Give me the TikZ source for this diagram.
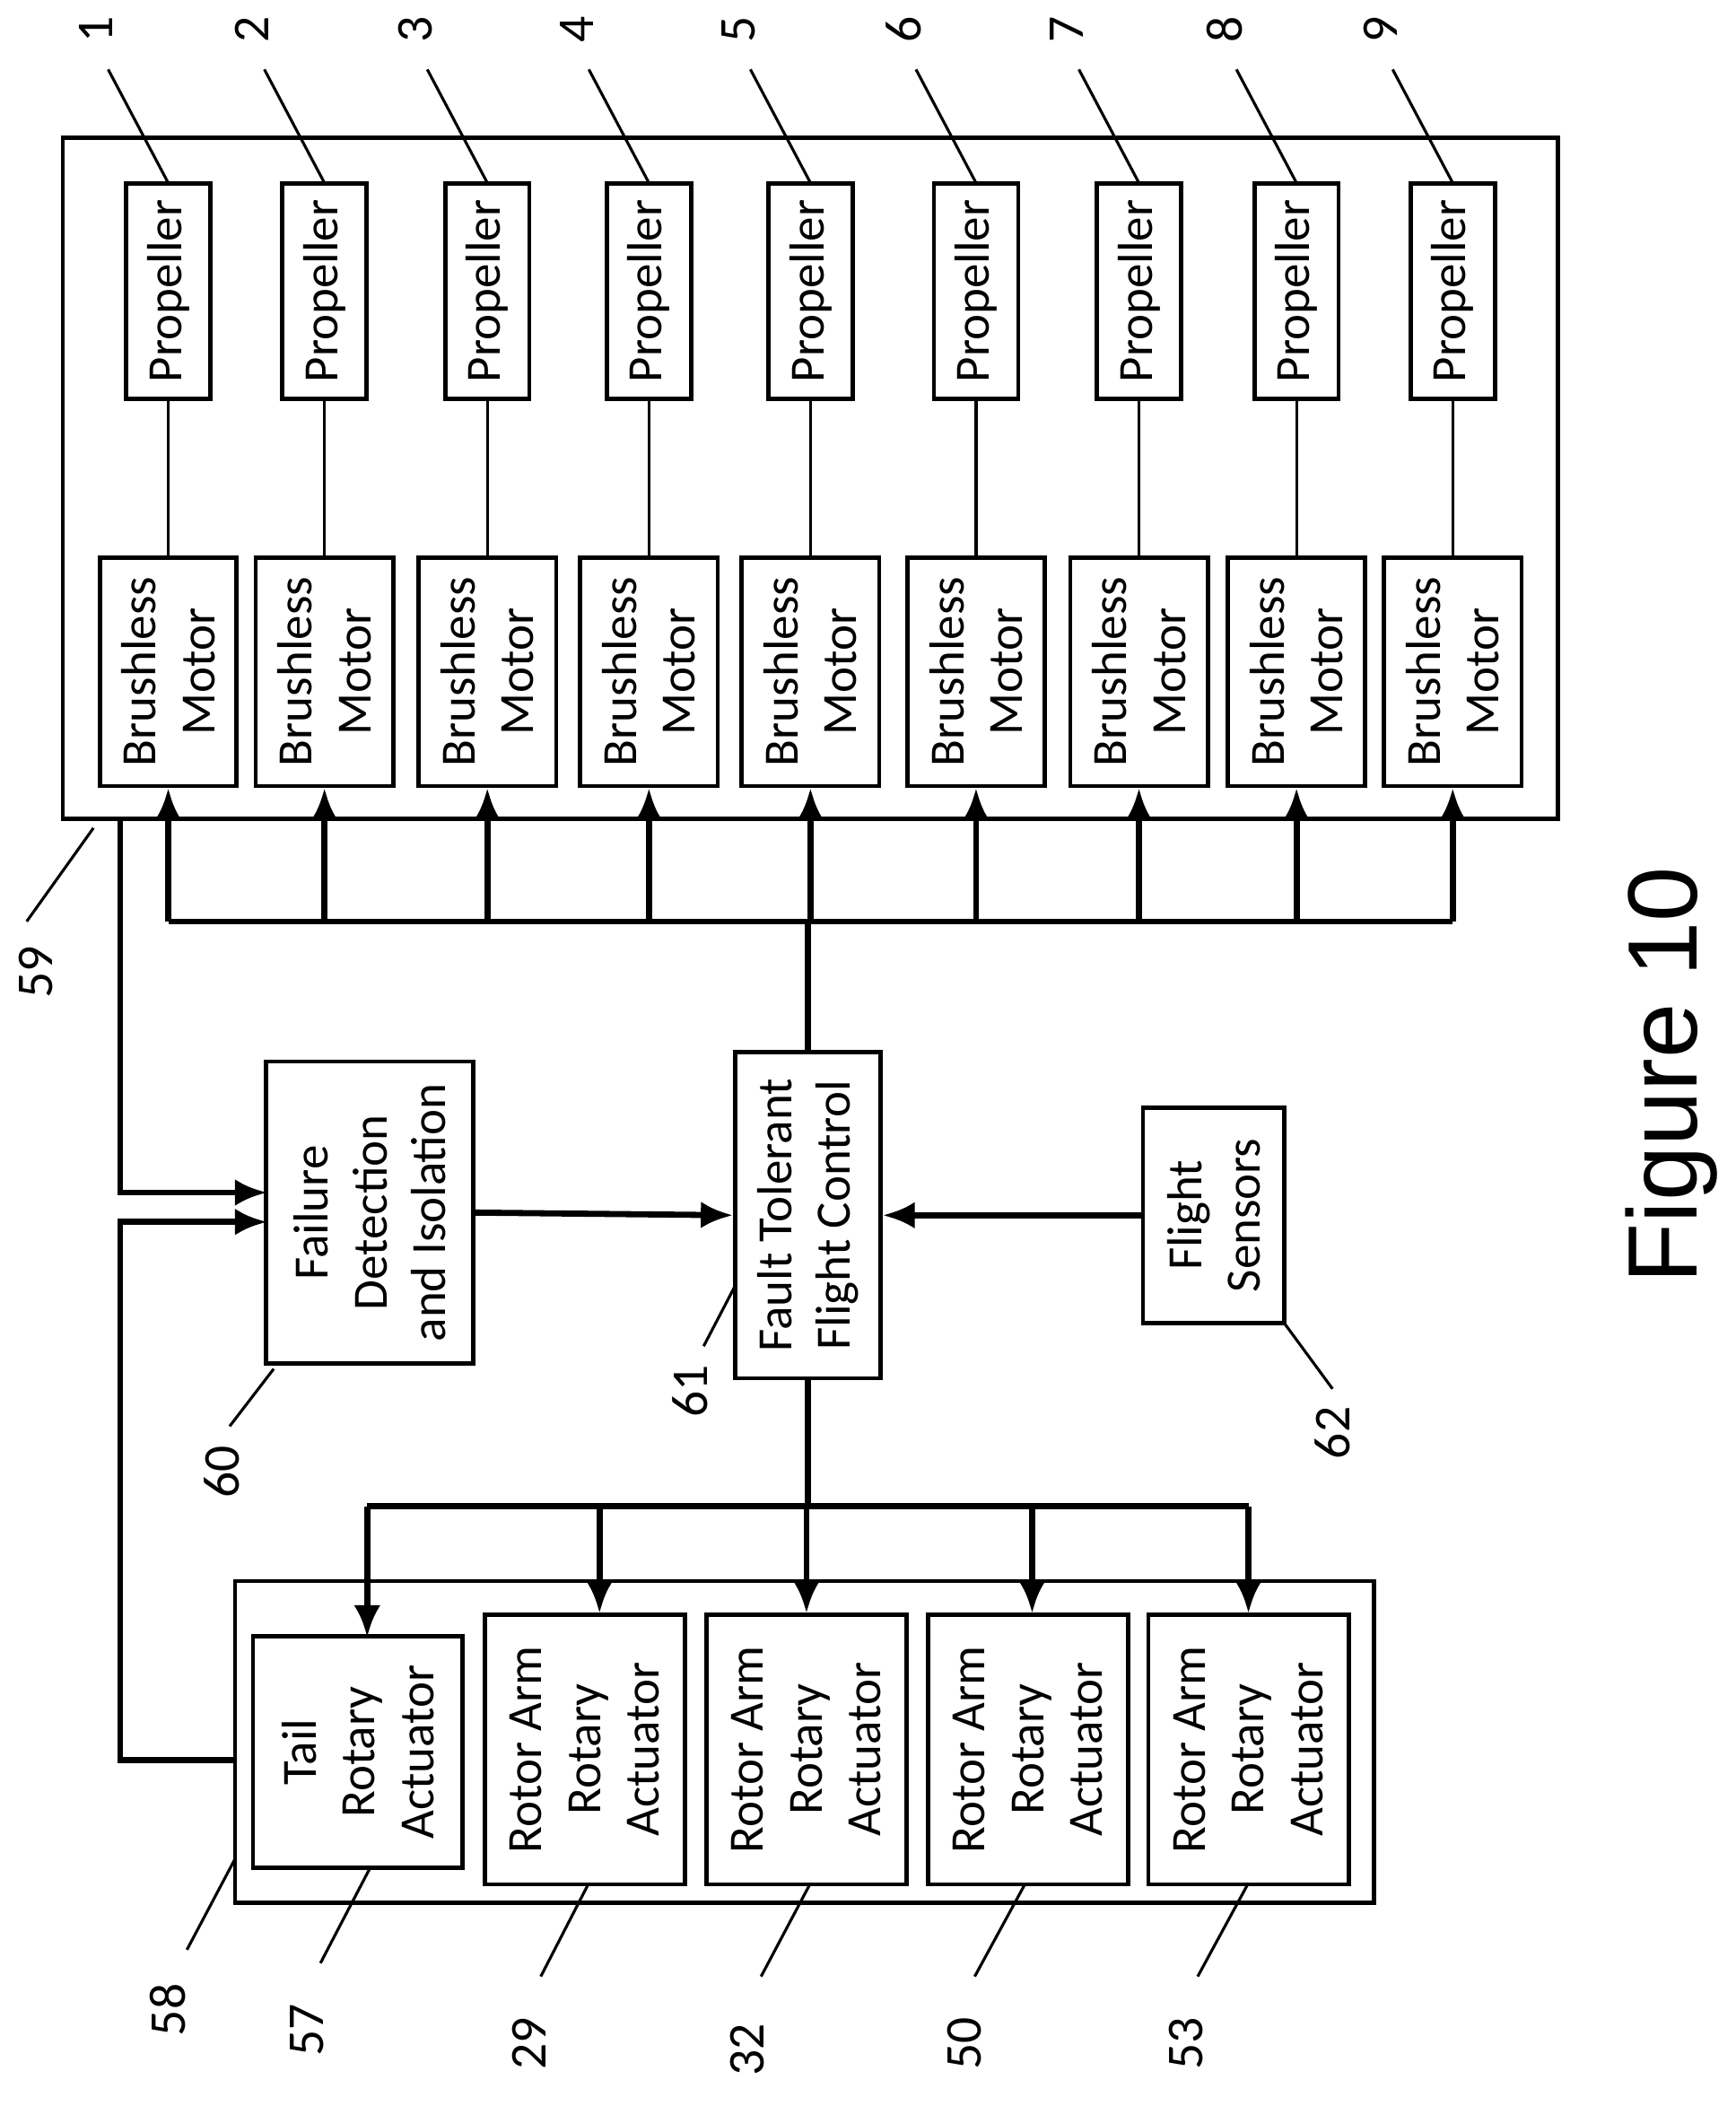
\documentclass[tikz,border=0pt]{standalone}
\usepackage{fontspec}
\setmainfont{Carlito}
\newfontfamily\figfont{Liberation Sans}
\usetikzlibrary{arrows.meta}

\tikzset{
  blk/.style={draw,line width=0.9pt,rotate=90,align=center,inner sep=1pt,font=\fontsize{10.5}{12.5}\selectfont},
  frame/.style={draw,line width=0.9pt},
  sig/.style={line width=1.3pt,-{Latex[length=2.4mm,width=2mm]}},
  bus/.style={line width=1.3pt},
  lead/.style={line width=0.6pt},
  num/.style={rotate=90,font=\fontsize{11}{13}\selectfont}
}

\begin{document}
\begin{tikzpicture}[x=0.01cm,y=-0.01cm]
  \useasboundingbox (0,0) rectangle (1300,1577);

  % top group: propellers and motors
  \draw[frame] (47,103) rectangle (1167,613);
  \foreach \i/\x/\w in {1/126/102,2/243/103,3/365/103,4/486/103,5/607/103,6/731/103,7/853/103,8/971/103,9/1088/103} {
    \node[blk,minimum width=1.61cm,minimum height=0.63cm] (p\i) at (\x,218) {Propeller};
    \node[blk,minimum width=1.71cm,minimum height=\w*0.01cm] (m\i) at (\x,503) {Brushless\\Motor};
    \draw[lead] (p\i.west) -- (m\i.east);
    \coordinate (b\i) at (\x,690);
    \draw[sig] (b\i) -- (m\i.west);
    \coordinate (t\i) at (\x-45,52);
    \draw[lead] (\x,137) -- (t\i);
    \node[num] (n\i) at (\x-54,22) {\i};
  }
  \draw[bus] (b1) -- (b9);

  % controller and inputs
  \node[blk,minimum width=2.44cm,minimum height=1.09cm] (ftfc) at (605,910) {Fault Tolerant\\Flight Control};
  \node[blk,minimum width=2.26cm,minimum height=1.55cm] (fdi) at (277,908) {Failure\\Detection\\and Isolation};
  \node[blk,minimum width=1.61cm,minimum height=1.06cm] (fs) at (909,910) {Flight\\Sensors};
  \draw[bus] (ftfc.east) -- (605,690);
  \draw[sig] (fdi.south) -- (ftfc.north);
  \draw[sig] (fs.north) -- (ftfc.south);

  % bottom group: actuators
  \draw[frame] (176,1184) rectangle (1029,1425);
  \node[blk,minimum width=1.73cm,minimum height=1.57cm] (a57) at (268,1312) {Tail\\Rotary\\Actuator};
  \foreach \n/\x in {29/438,32/604,50/770,53/935} {
    \node[blk,minimum width=2.02cm,minimum height=1.50cm] (a\n) at (\x,1310) {Rotor Arm\\Rotary\\Actuator};
  }
  \draw[bus] (ftfc.west) -- (605,1128);
  \coordinate (d57) at (275,1128);
  \coordinate (d53) at (935,1128);
  \draw[bus] (d57) -- (d53);
  \draw[sig] (d57) -- (275,1226);
  \foreach \n/\x in {29/449,32/604,50/773,53/935} {
    \draw[sig] (\x,1128) -- (\x,1208);
  }

  % failure feedback
  \coordinate (f59) at (90,613);
  \coordinate (f58) at (176,1318);
  \draw[sig] (f59) -- (90,893) -- (200,893);
  \draw[sig] (f58) -- (90,1318) -- (90,915) -- (200,915);

  % reference numerals
  \draw[lead] (70,620) -- (20,690);  \node[num] (n59) at (27,728) {59};
  \draw[lead] (205,1025) -- (172,1068); \node[num] (n60) at (166,1102) {60};
  \draw[lead] (551,962) -- (527,1008); \node[num] (n61) at (517,1042) {61};
  \draw[lead] (962,991) -- (998,1040); \node[num] (n62) at (998,1073) {62};
  \draw[lead] (176,1392) -- (140,1460); \node[num] (n58) at (126,1505) {58};
  \draw[lead] (277,1399) -- (240,1470); \node[num] (n57) at (230,1520) {57};
  \draw[lead] (440,1412) -- (405,1480); \node[num] (n29) at (396,1530) {29};
  \draw[lead] (606,1412) -- (570,1480); \node[num] (n32) at (560,1535) {32};
  \draw[lead] (767,1412) -- (730,1480); \node[num] (n50) at (722,1530) {50};
  \draw[lead] (935,1410) -- (897,1480); \node[num] (n53) at (888,1530) {53};

  \node[rotate=90,font=\figfont\fontsize{21}{25}\selectfont] (fig) at (1252,805) {Figure 10};
\end{tikzpicture}
\end{document}
